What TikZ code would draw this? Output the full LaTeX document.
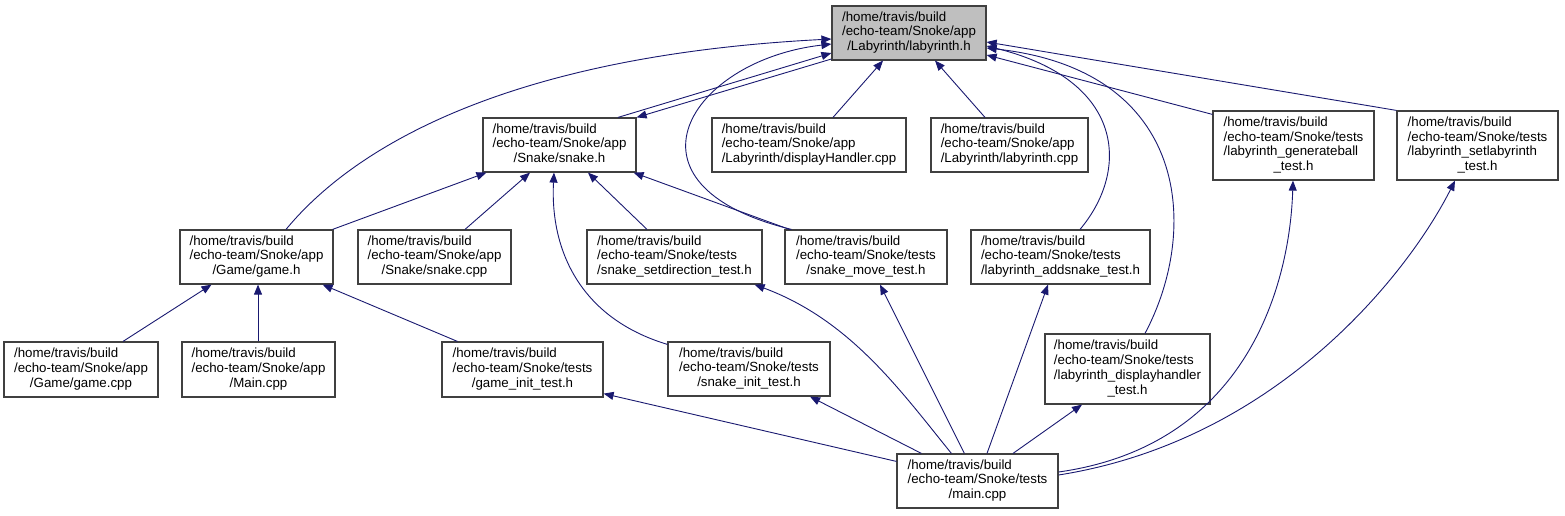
\documentclass[tikz,border=0pt]{standalone}
\usepackage{fontspec}
\setmainfont{Liberation Sans}
\usetikzlibrary{arrows.meta}
\definecolor{edgeblue}{RGB}{25,25,112}
\definecolor{boxline}{RGB}{64,64,64}
\newcommand{\tlines}[3]{\begin{tabular}{@{}l@{}}#1\\#2\\\multicolumn{1}{@{}c@{}}{#3}\end{tabular}}
\newcommand{\flines}[4]{\begin{tabular}{@{}l@{}}#1\\#2\\#3\\\multicolumn{1}{@{}c@{}}{#4}\end{tabular}}
\begin{document}
\begin{tikzpicture}[x=1pt,y=-1pt,
  file/.style={draw=boxline, line width=1.2pt, fill=white, inner sep=0pt,
    font=\fontsize{13.3}{14.8}\selectfont, minimum height=54pt},
  edge/.style={draw=edgeblue, line width=0.9pt, -{Triangle[length=10pt,width=8pt]}}]
\useasboundingbox (0,0) rectangle (1565,515);
% nodes
\node[file, fill=black!25, minimum width=154pt] (lab) at (909,33) {\tlines{/home/travis/build}{/echo-team/Snoke/app}{/Labyrinth/labyrinth.h}};
\node[file, minimum width=153pt] (snakeh) at (559.5,145) {\tlines{/home/travis/build}{/echo-team/Snoke/app}{/Snake/snake.h}};
\node[file, minimum width=194pt] (disp) at (809,145) {\tlines{/home/travis/build}{/echo-team/Snoke/app}{/Labyrinth/displayHandler.cpp}};
\node[file, minimum width=157pt] (labcpp) at (1009.5,145) {\tlines{/home/travis/build}{/echo-team/Snoke/app}{/Labyrinth/labyrinth.cpp}};
\node[file, minimum width=161pt, minimum height=69pt] (genball) at (1293.5,145.5) {\flines{/home/travis/build}{/echo-team/Snoke/tests}{/labyrinth\_generateball}{\_test.h}};
\node[file, minimum width=161pt, minimum height=69pt] (setlab) at (1477.5,145.5) {\flines{/home/travis/build}{/echo-team/Snoke/tests}{/labyrinth\_setlabyrinth}{\_test.h}};
\node[file, minimum width=153pt] (gameh) at (256.5,257) {\tlines{/home/travis/build}{/echo-team/Snoke/app}{/Game/game.h}};
\node[file, minimum width=153pt] (snakecpp) at (434.5,257) {\tlines{/home/travis/build}{/echo-team/Snoke/app}{/Snake/snake.cpp}};
\node[file, minimum width=175pt] (setdir) at (674.5,257) {\tlines{/home/travis/build}{/echo-team/Snoke/tests}{/snake\_setdirection\_test.h}};
\node[file, minimum width=162pt] (move) at (866,257) {\tlines{/home/travis/build}{/echo-team/Snoke/tests}{/snake\_move\_test.h}};
\node[file, minimum width=179pt] (addsnake) at (1060.5,257) {\tlines{/home/travis/build}{/echo-team/Snoke/tests}{/labyrinth\_addsnake\_test.h}};
\node[file, minimum width=154pt, minimum height=55pt] (gamecpp) at (81,369.5) {\tlines{/home/travis/build}{/echo-team/Snoke/app}{/Game/game.cpp}};
\node[file, minimum width=153pt, minimum height=55pt] (appmain) at (258.5,369.5) {\tlines{/home/travis/build}{/echo-team/Snoke/app}{/Main.cpp}};
\node[file, minimum width=161pt, minimum height=55pt] (gameinit) at (522.5,369.5) {\tlines{/home/travis/build}{/echo-team/Snoke/tests}{/game\_init\_test.h}};
\node[file, minimum width=162pt] (snakeinit) at (749,369) {\tlines{/home/travis/build}{/echo-team/Snoke/tests}{/snake\_init\_test.h}};
\node[file, minimum width=165pt, minimum height=70pt] (disph) at (1127.5,369) {\flines{/home/travis/build}{/echo-team/Snoke/tests}{/labyrinth\_displayhandler}{\_test.h}};
\node[file, minimum width=161pt] (main) at (977.5,481) {\tlines{/home/travis/build}{/echo-team/Snoke/tests}{/main.cpp}};
% edges to labyrinth.h
\draw[edge] ([xshift=29.5pt]gameh.north) .. controls (360,140) and (520,55) .. ([yshift=-6pt]lab.west);
\draw[edge] ([xshift=58.5pt]snakeh.north) -- ([yshift=-20pt]lab.west);
\draw[edge] ([yshift=-26pt]lab.west) -- (snakeh.north east);
\draw[edge] ([xshift=24pt]disp.north) -- ([xshift=-26pt]lab.south);
\draw[edge] ([xshift=-24.5pt]labcpp.north) -- ([xshift=26pt]lab.south);
\draw[edge] ([yshift=-4pt]genball.north west) -- ([yshift=-22pt]lab.east);
\draw[edge] (setlab.north west) -- ([yshift=-9pt]lab.east);
\draw[edge] ([xshift=7pt]move.north west) .. controls (610,185) and (690,60) .. ([yshift=-11pt]lab.west);
\draw[edge] ([xshift=19.5pt]addsnake.north) .. controls (1130,170) and (1125,80) .. ([yshift=-13pt]lab.east);
\draw[edge] ([xshift=17.5pt]disph.north) .. controls (1200,230) and (1190,70) .. ([yshift=-15pt]lab.east);
% edges to snake.h
\draw[edge] ([xshift=-1pt]gameh.north east) -- ([xshift=4pt]snakeh.south west);
\draw[edge] ([xshift=30.5pt]snakecpp.north) -- ([xshift=-29.5pt]snakeh.south);
\draw[edge] ([xshift=-27.5pt]setdir.north) -- ([xshift=28.5pt]snakeh.south);
\draw[edge] ([xshift=5pt]move.north west) -- ([xshift=-3pt]snakeh.south east);
\draw[edge] ([yshift=-3pt]snakeinit.north west) .. controls (580,318) and (550,250) .. ([xshift=-5.5pt]snakeh.south);
% edges to game.h
\draw[edge] ([xshift=42pt]gamecpp.north) -- ([xshift=-45pt]gameh.south);
\draw[edge] ([xshift=-0.5pt]appmain.north) -- ([xshift=1.5pt]gameh.south);
\draw[edge] ([xshift=16pt]gameinit.north west) -- ([xshift=-11pt]gameh.south east);
% edges from main.cpp
\draw[edge] ([yshift=-8pt]main.north west) -- ([yshift=4pt]gameinit.south east);
\draw[edge] ([xshift=25pt]main.north west) -- ([xshift=61pt]snakeinit.south);
\draw[edge] ([xshift=55pt]main.north west) .. controls (900,390) and (850,320) .. ([xshift=-8pt]setdir.south east);
\draw[edge] ([xshift=68pt]main.north west) -- ([xshift=14pt]move.south);
\draw[edge] ([xshift=9.5pt]main.north) -- ([xshift=-12.5pt]addsnake.south);
\draw[edge] ([xshift=35.5pt]main.north) -- ([xshift=-45.5pt]disph.south);
\draw[edge] ([yshift=9pt]main.east) .. controls (1250,445) and (1290,280) .. ([xshift=-0.5pt]genball.south);
\draw[edge] ([yshift=6pt]main.east) .. controls (1280,440) and (1410,270) .. ([xshift=-22.5pt]setlab.south);
\end{tikzpicture}
\end{document}
